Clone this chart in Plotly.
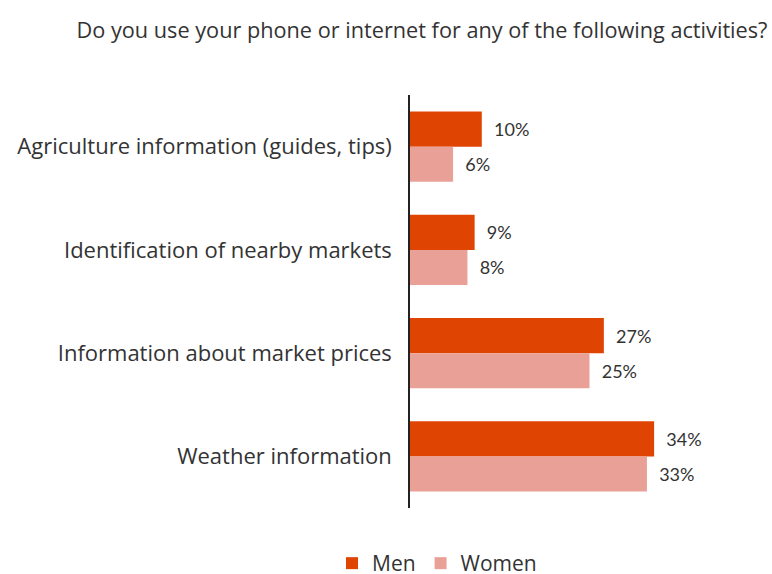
import plotly.graph_objects as go

categories = ["Agriculture information (guides, tips)", "Identification of nearby markets",
              "Information about market prices", "Weather information"]
men = [10, 9, 27, 34]
women = [6, 8, 25, 33]
title = "Do you use your phone or internet for any of the following activities?"

fig = go.Figure()
fig.add_trace(go.Bar(y=categories, x=men, name="Men", orientation="h",
                     marker=dict(color="#E04403", line=dict(width=0)),
                     text=[f"  {v}%" for v in men], textposition="outside", cliponaxis=False,
                     textfont=dict(family="Lato, Open Sans", size=18, color="#333333")))
fig.add_trace(go.Bar(y=categories, x=women, name="Women", orientation="h",
                     marker=dict(color="#E9A097", line=dict(width=0)),
                     text=[f"  {v}%" for v in women], textposition="outside", cliponaxis=False,
                     textfont=dict(family="Lato, Open Sans", size=18, color="#333333")))

fig.update_layout(
    width=772, height=574,
    margin=dict(l=410, r=3, t=95, b=66, autoexpand=False),
    paper_bgcolor="white", plot_bgcolor="white",
    barmode="group", bargap=0.32, bargroupgap=0,
    title=dict(text=title, x=422/772, xanchor="center", xref="container",
               y=1 - 30/574, yanchor="middle", yref="container",
               font=dict(family="Open Sans", size=21.7, color="#333333")),
    showlegend=True,
    legend=dict(orientation="h", xref="container", yref="container",
                x=437/772, xanchor="center", y=1 - 543/574, yanchor="top",
                font=dict(family="Open Sans", size=21, color="#333333"),
                itemwidth=30, traceorder="normal"),
    xaxis=dict(range=[0, 50], showgrid=False, zeroline=False, showticklabels=False,
               showline=False, fixedrange=True),
    yaxis=dict(autorange="reversed", showgrid=False, showline=True, linecolor="#222222",
               linewidth=1.5, ticks="", ticklabelstandoff=12, fixedrange=True,
               tickfont=dict(family="Open Sans", size=22, color="#333333")),
)

fig.write_html("out.html", config={"displayModeBar": False},
               post_script="document.body.style.margin='0';document.body.style.overflow='hidden';")
